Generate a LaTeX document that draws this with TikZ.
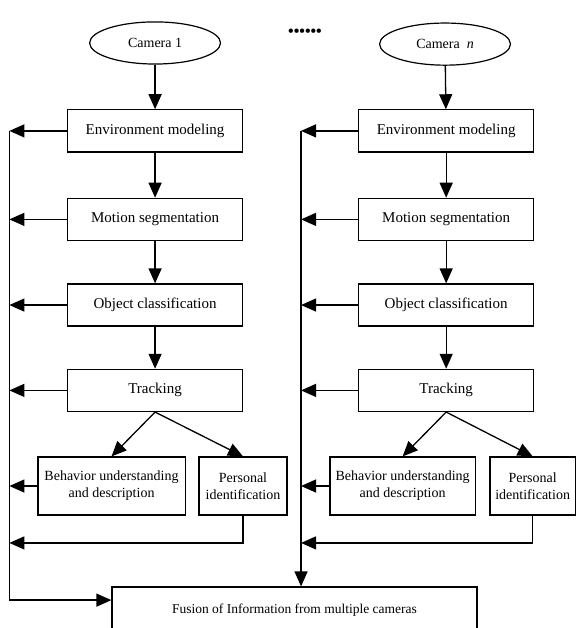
\documentclass[tikz,border=0pt]{standalone}
\usepackage{fontspec}
\setmainfont{Liberation Serif}
\usepackage{tikz}
\usetikzlibrary{positioning,arrows.meta,shapes.geometric}
\tikzset{
  blk/.style ={draw, rectangle, align=center, line width=1.2pt, minimum height=1.48cm, minimum width=6.15cm, font=\fontsize{15}{17}\selectfont},
  sub/.style ={draw, rectangle, align=center, line width=1.2pt, minimum height=2.04cm, inner sep=2pt, font=\fontsize{14}{17}\selectfont},
  cam/.style ={draw, ellipse, line width=1.2pt, minimum width=4.6cm, minimum height=1.48cm, font=\fontsize{14}{16}\selectfont},
  fuse/.style={draw, rectangle, line width=1.2pt, minimum width=12.83cm, minimum height=1.62cm, font=\fontsize{13.5}{16}\selectfont},
  arr/.style ={-{Triangle[length=15pt,width=13pt]}, line width=1.3pt},
}

\begin{document}
\begin{tikzpicture}
  \useasboundingbox (0,0) rectangle (20.24,-22.07);

  % camera inputs
  \node[cam] (cam1) at (5.45,-1.51)  {Camera 1};
  \node[cam] (camn) at (15.64,-1.55) {Camera\ \ \textit{n}};
  \node[font=\fontsize{16}{16}\selectfont\bfseries] (dots) at (10.72,-1.16) {••••••};

  % processing chain, camera 1
  \node[blk] (env1) at (5.45,-4.60)  {Environment modeling};
  \node[blk] (mot1) at (5.45,-7.71)  {Motion segmentation};
  \node[blk] (obj1) at (5.45,-10.72) {Object classification};
  \node[blk] (trk1) at (5.45,-13.72) {Tracking};
  \node[sub, minimum width=5.17cm] (beh1) at (3.92,-17.08) {Behavior understanding\\and description};
  \node[sub, minimum width=3.09cm] (pid1) at (8.54,-17.08) {Personal\\identification};

  % processing chain, camera n
  \node[blk] (env2) at (15.68,-4.60)  {Environment modeling};
  \node[blk] (mot2) at (15.68,-7.71)  {Motion segmentation};
  \node[blk] (obj2) at (15.68,-10.72) {Object classification};
  \node[blk] (trk2) at (15.68,-13.72) {Tracking};
  \node[sub, minimum width=5.1cm] (beh2) at (14.15,-17.08) {Behavior understanding\\and description};
  \node[sub, minimum width=3.0cm] (pid2) at (18.72,-17.08) {Personal\\identification};

  \node[fuse] (fus) at (10.35,-21.44) {Fusion of Information from multiple cameras};

  % collecting lines
  \coordinate (lx)   at (0.33,0);
  \coordinate (rx)   at (10.58,0);
  \coordinate (lret) at (0.33,-19.08);
  \coordinate (rret) at (10.58,-19.08);
  \coordinate (lbot) at (0.33,-21.09);

  \draw[arr] (cam1) -- (env1);
  \draw[arr] (env1) -- (mot1);
  \draw[arr] (mot1) -- (obj1);
  \draw[arr] (obj1) -- (trk1);
  \draw[arr] (trk1.south) -- (beh1.north);
  \draw[arr] (trk1.south) -- (pid1.north);

  \draw[arr] (camn) -- (env2);
  \draw[arr] (env2) -- (mot2);
  \draw[arr] (mot2) -- (obj2);
  \draw[arr] (obj2) -- (trk2);
  \draw[arr] (trk2.south) -- (beh2.north);
  \draw[arr] (trk2.south) -- (pid2.north);

  \foreach \n in {env1,mot1,obj1,trk1,beh1}
    \draw[arr] (\n.west) -- (\n.west -| lx);
  \foreach \n in {env2,mot2,obj2,trk2,beh2}
    \draw[arr] (\n.west) -- (\n.west -| rx);
  \draw[arr] (pid1.south) |- (lret);
  \draw[arr] (pid2.south) |- (rret);

  \draw[line width=1.3pt] (env1.west -| lx) -- (lbot);
  \draw[arr] (lbot) -- (lbot -| fus.west);
  \draw[arr] (env2.west -| rx) -- (rx |- fus.north);
\end{tikzpicture}
\end{document}
